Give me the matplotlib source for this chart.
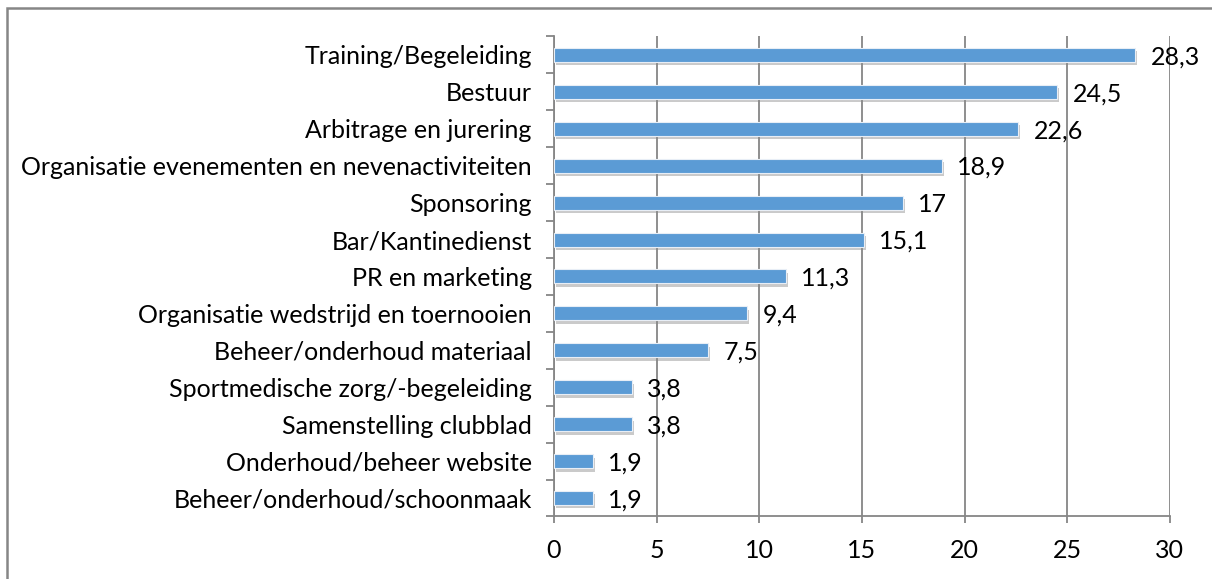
import matplotlib.pyplot as plt
import matplotlib.patheffects as pe
from matplotlib.patches import Rectangle
from matplotlib.ticker import MultipleLocator, FixedLocator
import numpy as np

# data (top to bottom)
categories = [
    "Training/Begeleiding",
    "Bestuur",
    "Arbitrage en jurering",
    "Organisatie evenementen en nevenactiviteiten",
    "Sponsoring",
    "Bar/Kantinedienst",
    "PR en marketing",
    "Organisatie wedstrijd en toernooien",
    "Beheer/onderhoud materiaal",
    "Sportmedische zorg/-begeleiding",
    "Samenstelling clubblad",
    "Onderhoud/beheer website",
    "Beheer/onderhoud/schoonmaak",
]
values = [28.3, 24.5, 22.6, 18.9, 17, 15.1, 11.3, 9.4, 7.5, 3.8, 3.8, 1.9, 1.9]
value_labels = ["28,3", "24,5", "22,6", "18,9", "17", "15,1", "11,3", "9,4", "7,5", "3,8", "3,8", "1,9", "1,9"]

plt.rcParams['font.family'] = ['Lato', 'DejaVu Sans']
grey = "#868686"
fs = 18

fig = plt.figure(figsize=(12.12, 5.79), dpi=100)
ax = fig.add_axes([0.457, 0.108, 0.5083, 0.829])

y = np.arange(len(categories))[::-1]
bars = ax.barh(y, values, height=0.38, color="#5B9BD5", edgecolor="#e8eef6", linewidth=0.8, zorder=3)
for b in bars:
    b.set_path_effects([pe.SimplePatchShadow(offset=(1.5, -2.5), shadow_rgbFace="#8a8a8a", alpha=0.45),
                        pe.Normal()])

for yi, v, lab in zip(y, values, value_labels):
    ax.text(v + 0.75, yi - 0.05, lab, va="center", ha="left", fontsize=fs, color="black", zorder=4)

ax.set_xlim(0, 30)
ax.set_ylim(-0.5, len(categories) - 0.5)
ax.xaxis.set_major_locator(MultipleLocator(5))
ax.grid(axis="x", color=grey, linewidth=1.3, zorder=0)

ax.set_yticks(y)
ax.set_yticklabels(categories, fontsize=fs)
ax.yaxis.set_minor_locator(FixedLocator(np.arange(-0.5, len(categories), 1)))
ax.tick_params(axis="y", which="major", length=0, pad=16)
ax.tick_params(axis="y", which="minor", length=6, width=1.3, color=grey, direction="out")
ax.tick_params(axis="x", length=5, width=1.3, color=grey, labelsize=fs, pad=11)

for s in ["top", "right"]:
    ax.spines[s].set_visible(False)
for s in ["left", "bottom"]:
    ax.spines[s].set_color(grey)
    ax.spines[s].set_linewidth(1.3)

# outer chart frame
fig.patches.append(Rectangle((7 / 1212, -0.05), 1.1, 1 - 8 / 579 + 0.05, transform=fig.transFigure,
                             fill=False, edgecolor=grey, linewidth=1.8))

fig.savefig("out.png", dpi=100)
